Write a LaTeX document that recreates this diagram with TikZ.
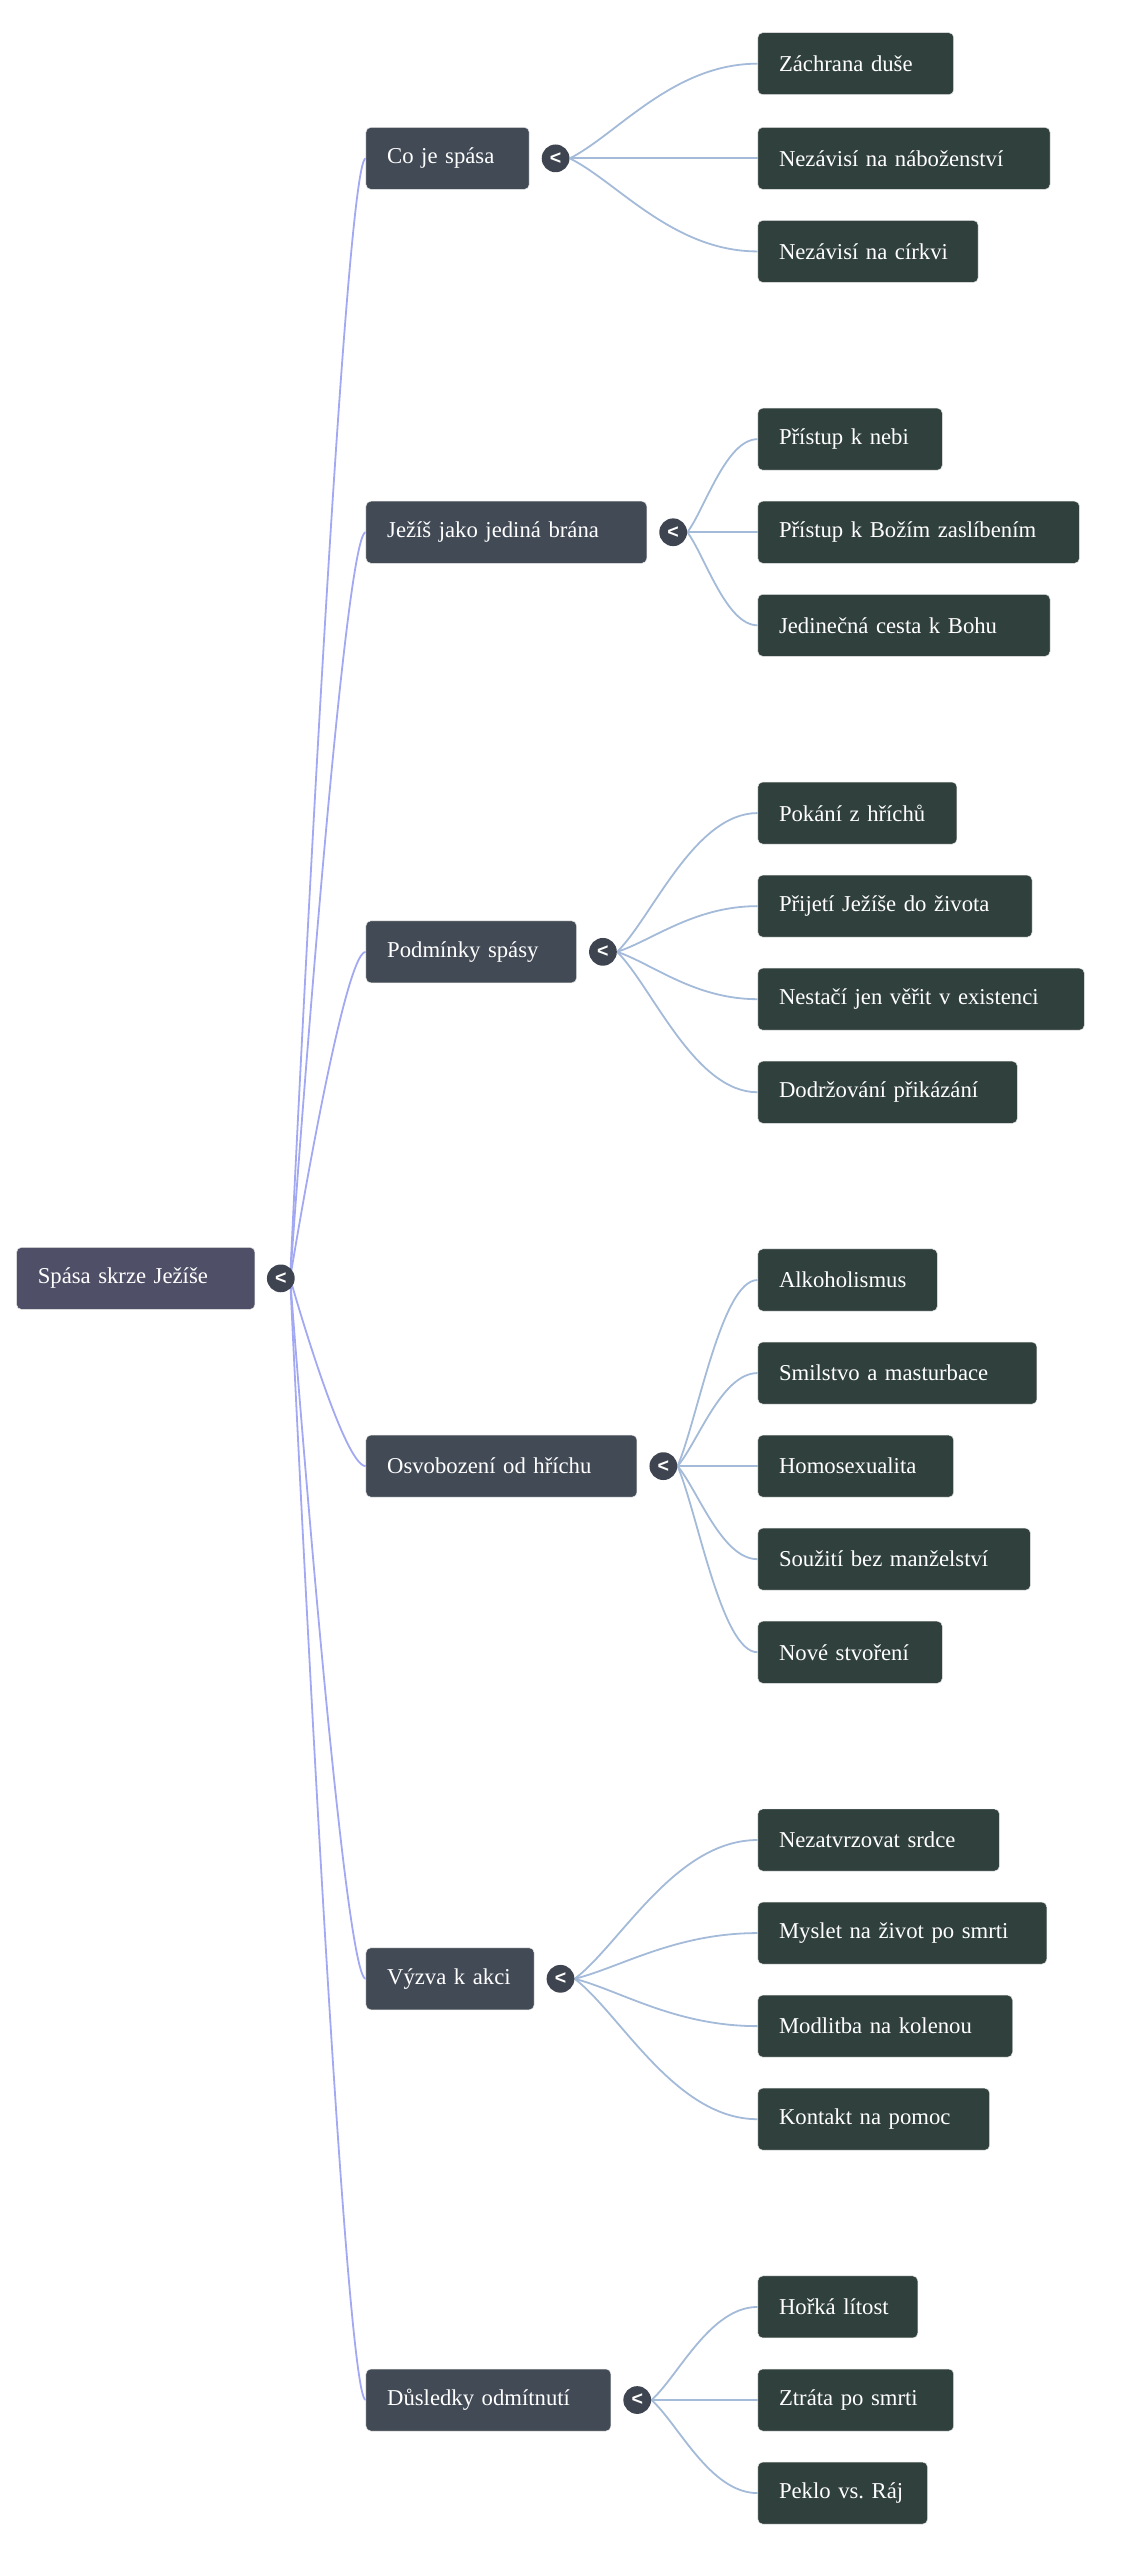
\documentclass[tikz,border=0pt]{standalone}
\usepackage{fontspec}
\setmainfont{Liberation Serif}
\newfontfamily\togglefont{Liberation Sans}
\usetikzlibrary{positioning,calc,backgrounds}
\definecolor{rootbg}{HTML}{4F5068}
\definecolor{branchbg}{HTML}{424A55}
\definecolor{togglebg}{HTML}{3E4550}
\definecolor{leafbg}{HTML}{30403C}
\definecolor{rootedge}{HTML}{A2A8F2}
\definecolor{leafedge}{HTML}{A3BAD9}
\frenchspacing

\begin{document}
\begin{tikzpicture}[x=1pt,y=-1pt,font=\fontsize{13.9}{16}\selectfont,
  box/.style={anchor=west, rounded corners=3pt, draw=white!80!gray, line width=0.3pt,
    text=white, minimum height=38pt, inner xsep=13pt, align=left, text width=#1,
    execute at begin node=\hbox\bgroup, execute at end node=\egroup},
  rootbox/.style={box=#1, fill=rootbg},
  branch/.style={box=#1, fill=branchbg},
  leaf/.style={box=#1, fill=leafbg},
  toggle/.style={circle, fill=togglebg, text=white, minimum size=17pt, inner sep=0pt,
    font=\togglefont\bfseries\fontsize{12}{12}\selectfont},
  rootline/.style={draw=rootedge, line width=1.1pt},
  leafline/.style={draw=leafedge, line width=1.1pt}]
  \useasboundingbox (0,0) rectangle (698,1568);

  % root
  \node[rootbox=120] (r) at (10,783) {Spása skrze Ježíše};
  \node[toggle] (t0) at (172,783) {<};

  % branches
  \node[branch=74] (b1) at (224,97) {Co je spása};
  \node[branch=146] (b2) at (224,326) {Ježíš jako jediná brána};
  \node[branch=103] (b3) at (224,583) {Podmínky spásy};
  \node[branch=140] (b4) at (224,898) {Osvobození od hříchu};
  \node[branch=77] (b5) at (224,1212) {Výzva k akci};
  \node[branch=124] (b6) at (224,1470) {Důsledky odmítnutí};
  \node[toggle] (t1) [right=16pt of b1.east, anchor=center] {<};
  \node[toggle] (t2) [right=16pt of b2.east, anchor=center] {<};
  \node[toggle] (t3) [right=16pt of b3.east, anchor=center] {<};
  \node[toggle] (t4) [right=16pt of b4.east, anchor=center] {<};
  \node[toggle] (t5) [right=16pt of b5.east, anchor=center] {<};
  \node[toggle] (t6) [right=16pt of b6.east, anchor=center] {<};

  % leaves
  \node[leaf=94] (l11) at (464,39) {Záchrana duše};
  \node[leaf=153] (l12) at (464,97) {Nezávisí na náboženství};
  \node[leaf=109] (l13) at (464,154) {Nezávisí na církvi};

  \node[leaf=87] (l21) at (464,269) {Přístup k nebi};
  \node[leaf=171] (l22) at (464,326) {Přístup k Božím zaslíbením};
  \node[leaf=153] (l23) at (464,383) {Jedinečná cesta k Bohu};

  \node[leaf=96] (l31) at (464,498) {Pokání z hříchů};
  \node[leaf=142] (l32) at (464,555) {Přijetí Ježíše do života};
  \node[leaf=174] (l33) at (464,612) {Nestačí jen věřit v existenci};
  \node[leaf=133] (l34) at (464,669) {Dodržování přikázání};

  \node[leaf=84] (l41) at (464,784) {Alkoholismus};
  \node[leaf=145] (l42) at (464,841) {Smilstvo a masturbace};
  \node[leaf=94] (l43) at (464,898) {Homosexualita};
  \node[leaf=141] (l44) at (464,955) {Soužití bez manželství};
  \node[leaf=87] (l45) at (464,1012) {Nové stvoření};

  \node[leaf=122] (l51) at (464,1127) {Nezatvrzovat srdce};
  \node[leaf=151] (l52) at (464,1184) {Myslet na život po smrti};
  \node[leaf=130] (l53) at (464,1241) {Modlitba na kolenou};
  \node[leaf=116] (l54) at (464,1298) {Kontakt na pomoc};

  \node[leaf=72] (l61) at (464,1413) {Hořká lítost};
  \node[leaf=94] (l62) at (464,1470) {Ztráta po smrti};
  \node[leaf=78] (l63) at (464,1527) {Peklo vs. Ráj};

  % connectors
  \begin{scope}[on background layer]
  \foreach \b in {1,...,6}
    \path[rootline] ([xshift=-3pt]t0.east) .. controls ([xshift=-3pt]t0.east)
      and ($([xshift=-3pt]t0.east |- b\b.west)!0.7!(b\b.west)$) .. (b\b.west);
  \foreach \b/\n in {1/3,2/3,3/4,4/5,5/4,6/3}
    \foreach \i in {1,...,\n}
      \path[leafline] (t\b.east) .. controls ($(t\b.east)!0.25!(l\b\i.west)$)
        and ($(t\b.east |- l\b\i.west)!0.55!(l\b\i.west)$) .. (l\b\i.west);
  \end{scope}
\end{tikzpicture}
\end{document}
